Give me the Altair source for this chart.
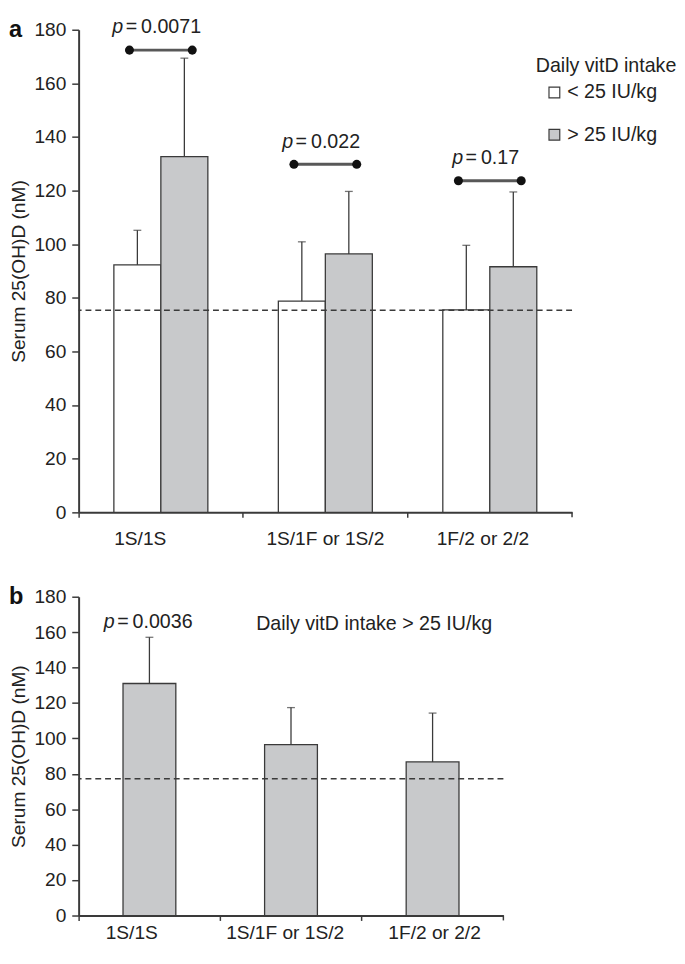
import altair as alt
import pandas as pd

# ---------------- data ----------------
groups = ["1S/1S", "1S/1F or 1S/2", "1F/2 or 2/2"]
intake = ["< 25 IU/kg", "> 25 IU/kg"]

# panel a
a_low_mean = [92.3, 78.8, 75.5]
a_low_upper = [105.2, 100.9, 99.6]
a_high_mean = [132.7, 96.4, 91.6]
a_high_upper = [169.4, 119.7, 119.5]
a_p_values = ["0.0071", "0.022", "0.17"]
a_p_line = [172.4, 129.8, 123.7]
a_threshold = [75.4]

# panel b
b_mean = [131.0, 96.5, 86.7]
b_upper = [157.1, 117.4, 114.3]
b_p_group = ["1S/1S"]
b_p_values = ["0.0036"]
b_threshold = [77.2]

y_ticks = [0, 20, 40, 60, 80, 100, 120, 140, 160, 180]

# ---------------- tables ----------------
df_a = pd.DataFrame({
    "group": groups * 2,
    "intake": [intake[0]] * 3 + [intake[1]] * 3,
    "mean": a_low_mean + a_high_mean,
    "upper": a_low_upper + a_high_upper,
})
df_pa = pd.DataFrame({"group": groups, "pval": a_p_values, "line": a_p_line})
df_b = pd.DataFrame({"group": groups, "mean": b_mean, "upper": b_upper})
df_pb = pd.DataFrame({
    "group": b_p_group,
    "pval": b_p_values,
    "upper": [b_upper[groups.index(g)] for g in b_p_group],
})
one = pd.DataFrame({"k": [0]})

FONT = "Liberation Sans"
INK = "#222222"
EDGE = "#3a3a3a"
GREY = "#c8c9cb"
TITLE = "Serum 25(OH)D (nM)"

W_A, H_A = 503, 492
W_B, H_B = 433, 325


def label_shift(shifts):
    conds = [{"test": f"datum.value === '{g}'", "value": v} for g, v in shifts.items()]
    return {"condition": conds, "value": 0}


def x_enc(label_pad, shifts):
    return alt.X(
        "group:N", sort=groups, title=None,
        scale=alt.Scale(paddingInner=0, paddingOuter=0),
        axis=alt.Axis(labelAngle=0, bandPosition=0, tickSize=5, labelPadding=label_pad,
                      labelFontSize=19.5, domainWidth=2, tickWidth=1.5,
                      labelOffset=label_shift(shifts)),
    )


def y_enc(field):
    return alt.Y(
        f"{field}:Q", title=TITLE,
        scale=alt.Scale(domain=[0, 180], nice=False, zero=True),
        axis=alt.Axis(values=y_ticks, tickSize=7, labelPadding=6, titlePadding=6,
                      labelFontSize=19.5, titleFontSize=19.5, domainWidth=2, tickWidth=1.5),
    )


def p_split(extra=0.0):
    # left edge of the "= value" part, so that "p = value" is centred on the group
    return alt.expr(f"{extra} + 11.1 - (36.4 + 11.1 * (length(datum.pval) - 1)) / 2")


# ---------------- panel a ----------------
xa = x_enc(13, {"1S/1S": -21, "1F/2 or 2/2": -7})
xoff = alt.XOffset("intake:N", sort=intake,
                   scale=alt.Scale(paddingInner=0, paddingOuter=0.75))

bars_a = alt.Chart(df_a).mark_bar(stroke=EDGE, strokeWidth=1.3).encode(
    x=xa, xOffset=xoff, y=y_enc("mean"),
    fill=alt.Fill("intake:N", sort=intake,
                  scale=alt.Scale(domain=intake, range=["white", GREY]),
                  legend=alt.Legend(
                      title="Daily vitD intake", orient="none", legendX=466, legendY=27,
                      titleFontSize=20, titleFontWeight="normal", titleFont=FONT,
                      titleColor=INK, titlePadding=7, labelFontSize=20, labelFont=FONT,
                      labelColor=INK, symbolType="square", symbolSize=121,
                      symbolStrokeColor=EDGE, symbolStrokeWidth=1.2, symbolOffset=9,
                      labelOffset=3, rowPadding=23, padding=0)),
)
err_a = alt.Chart(df_a).mark_rule(color=EDGE, strokeWidth=1.3).encode(
    x=xa, xOffset=xoff, y=y_enc("mean"), y2="upper:Q")
cap_a = alt.Chart(df_a).mark_tick(color=EDGE, thickness=1.3, size=8).encode(
    x=xa, xOffset=xoff, y=y_enc("upper"))
dash_a = alt.Chart(pd.DataFrame({"t": a_threshold})).mark_rule(
    color=EDGE, strokeWidth=1.5, strokeDash=[6, 4]).encode(y=y_enc("t"))
pline_a = alt.Chart(df_pa).mark_tick(color="#111111", thickness=3, size=64).encode(
    x=xa, y=y_enc("line"))
dot_l = alt.Chart(df_pa).mark_circle(color="#111111", size=85, opacity=1, xOffset=-32).encode(
    x=xa, y=y_enc("line"))
dot_r = alt.Chart(df_pa).mark_circle(color="#111111", size=85, opacity=1, xOffset=32).encode(
    x=xa, y=y_enc("line"))
ptxt_p = alt.Chart(df_pa).mark_text(
    font=FONT, fontSize=20, fontStyle="italic", color=INK, align="right",
    baseline="alphabetic", dx=p_split(-3.5), dy=-17).encode(
    x=xa, y=y_enc("line"), text=alt.value("p"))
ptxt_v = alt.Chart(df_pa).transform_calculate(
    rest="'\u2009=\u2009' + datum.pval").mark_text(
    font=FONT, fontSize=20, color=INK, align="left",
    baseline="alphabetic", dx=p_split(-1), dy=-17).encode(
    x=xa, y=y_enc("line"), text="rest:N")
lab_a = alt.Chart(pd.DataFrame({"lab": ["a"]})).mark_text(
    font=FONT, fontSize=24, fontWeight="bold", color="#111111", align="left",
    baseline="top").encode(x=alt.value(-71), y=alt.value(-12), text="lab:N")
end_a = alt.Chart(one).mark_rule(color=EDGE, strokeWidth=1.5).encode(
    x=alt.value(W_A), y=alt.value(H_A), y2=alt.value(H_A + 5))

panel_a = alt.layer(bars_a, err_a, cap_a, dash_a, pline_a, dot_l, dot_r,
                    ptxt_p, ptxt_v, lab_a, end_a).properties(width=W_A, height=H_A)

# ---------------- panel b ----------------
xb = x_enc(3, {"1S/1S": -18, "1S/1F or 1S/2": -6, "1F/2 or 2/2": 2})
bars_b = alt.Chart(df_b).mark_bar(
    fill=GREY, stroke=EDGE, strokeWidth=1.3, width=alt.RelativeBandSize(0.373)).encode(
    x=xb, y=y_enc("mean"))
err_b = alt.Chart(df_b).mark_rule(color=EDGE, strokeWidth=1.3).encode(
    x=xb, y=y_enc("mean"), y2="upper:Q")
cap_b = alt.Chart(df_b).mark_tick(color=EDGE, thickness=1.3, size=8).encode(
    x=xb, y=y_enc("upper"))
dash_b = alt.Chart(pd.DataFrame({"t": b_threshold})).mark_rule(
    color=EDGE, strokeWidth=1.5, strokeDash=[6, 4]).encode(y=y_enc("t"))
ptxt_bp = alt.Chart(df_pb).mark_text(
    font=FONT, fontSize=20, fontStyle="italic", color=INK, align="right",
    baseline="alphabetic", dx=p_split(-0.5), dy=-9).encode(
    x=xb, y=y_enc("upper"), text=alt.value("p"))
ptxt_bv = alt.Chart(df_pb).transform_calculate(
    rest="'\u2009=\u2009' + datum.pval").mark_text(
    font=FONT, fontSize=20, color=INK, align="left",
    baseline="alphabetic", dx=p_split(2), dy=-9).encode(
    x=xb, y=y_enc("upper"), text="rest:N")
note_b = alt.Chart(pd.DataFrame({"lab": ["Daily vitD intake > 25 IU/kg"]})).mark_text(
    font=FONT, fontSize=20, color=INK, align="left", baseline="middle").encode(
    x=alt.value(181), y=alt.value(28), text="lab:N")
lab_b = alt.Chart(pd.DataFrame({"lab": ["b"]})).mark_text(
    font=FONT, fontSize=24, fontWeight="bold", color="#111111", align="left",
    baseline="top").encode(x=alt.value(-71), y=alt.value(-12), text="lab:N")
end_b = alt.Chart(one).mark_rule(color=EDGE, strokeWidth=1.5).encode(
    x=alt.value(W_B), y=alt.value(H_B), y2=alt.value(H_B + 5))

panel_b = alt.layer(bars_b, err_b, cap_b, dash_b, ptxt_bp, ptxt_bv, note_b,
                    lab_b, end_b).properties(width=W_B, height=H_B)

chart = alt.vconcat(panel_a, panel_b, spacing=37).properties(
    padding={"left": 0, "top": 0, "right": 0, "bottom": 0}
).configure_view(stroke=None).configure_axis(
    labelFont=FONT, titleFont=FONT, labelColor=INK, titleColor=INK,
    titleFontWeight="normal", domainColor=EDGE, tickColor=EDGE, grid=False,
).configure_text(font=FONT)

chart.save("out.html", embed_options={"renderer": "svg", "actions": False})
